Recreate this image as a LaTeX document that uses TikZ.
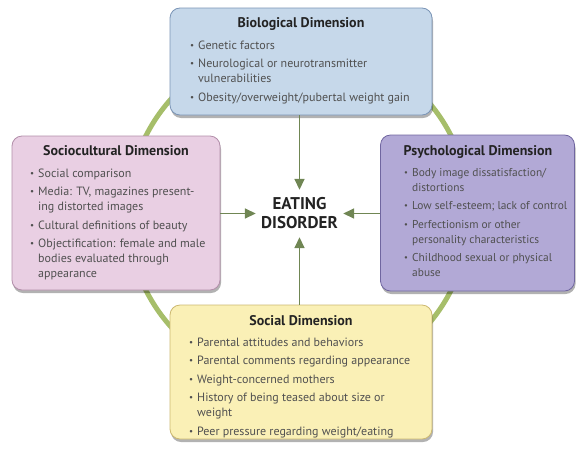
\documentclass[tikz,border=0pt]{standalone}
\usepackage{fontspec}
\setmainfont{PT Sans}
\usetikzlibrary{arrows.meta,shadows}
\definecolor{ringc}{RGB}{166,190,106}
\definecolor{arrc}{RGB}{112,134,84}
\definecolor{biofill}{RGB}{198,216,234}
\definecolor{biodraw}{RGB}{122,148,182}
\definecolor{socfill}{RGB}{233,207,227}
\definecolor{socdraw}{RGB}{178,142,170}
\definecolor{psyfill}{RGB}{178,169,214}
\definecolor{psydraw}{RGB}{112,102,160}
\definecolor{salfill}{RGB}{250,240,182}
\definecolor{saldraw}{RGB}{204,184,112}
\definecolor{txt}{RGB}{80,80,80}
\definecolor{ttl}{RGB}{35,35,35}
\newcommand\bitem[1]{\par\hangindent=8pt\hangafter=1\noindent\makebox[8pt][l]{\raisebox{0.15ex}{\scalebox{0.75}{\textbullet}}}#1\par}
\newcommand\blist[3][12]{\parbox[t]{#2}{\fontsize{#1}{15}\selectfont\raggedright\setlength\parskip{3.5pt}#3}}
\begin{document}
\begin{tikzpicture}[x=1pt,y=-1pt,
  dimbox/.style={rounded corners=10pt, line width=0.8pt, minimum width=#1, inner sep=0pt,
     drop shadow={shadow xshift=1pt, shadow yshift=-3pt, opacity=0.3, fill=black}},
  ttlnode/.style={font=\fontsize{14}{16}\selectfont\bfseries, text=ttl, inner sep=0pt, anchor=base},
  lstnode/.style={text=txt, inner sep=0pt, anchor=base west},
  arr/.style={arrc, line width=1.6pt, -{Triangle[length=11pt,width=10pt]}}]
\useasboundingbox (0,0) rectangle (577,450);
\coordinate (c) at (298.5,213);
\draw[ringc, line width=5pt] (c) circle[radius=171pt];
% boxes
\node[dimbox=262pt, minimum height=107pt, fill=biofill, draw=biodraw] (bio) at (301,61.5) {};
\node[dimbox=208pt, minimum height=154pt, fill=socfill, draw=socdraw] (socio) at (116,213) {};
\node[dimbox=194pt, minimum height=156pt, fill=psyfill, draw=psydraw] (psych) at (477.5,213) {};
\node[dimbox=262pt, minimum height=134pt, fill=salfill, draw=saldraw] (social) at (301,372) {};
% center
\node[minimum width=87pt, minimum height=47pt, inner sep=0pt, align=center,
      font=\fontsize{17}{19}\selectfont\bfseries, text=ttl] (ed) at (299.5,213.5) {EATING\\DISORDER};
% arrows
\draw[arr] (ed.north |- bio.south) -- (ed.north);
\draw[arr] (ed.south |- social.north) -- (ed.south);
\draw[arr] (socio.east |- ed.west) -- (ed.west);
\draw[arr] (psych.west |- ed.east) -- (ed.east);
% titles
\node[ttlnode] (biot) at (301,27) {Biological Dimension};
\node[ttlnode] (sociot) at (116,155) {Sociocultural Dimension};
\node[ttlnode] (psycht) at (478,155) {Psychological Dimension};
\node[ttlnode] (socialt) at (301,325) {Social Dimension};
% lists
\node[lstnode] (biol) at (190,49) {\blist{240pt}{%
\bitem{Genetic factors}
\bitem{Neurological or neurotransmitter\newline vulnerabilities}
\bitem{Obesity/overweight/pubertal weight gain}}};
\node[lstnode] (sociol) at (30,177) {\blist{190pt}{%
\bitem{Social comparison}
\bitem{Media: TV, magazines present-\newline ing distorted images}
\bitem{Cultural definitions of beauty}
\bitem{Objectification: female and male\newline bodies evaluated through\newline appearance}}};
\node[lstnode] (psychl) at (404,176) {\blist[11.4]{170pt}{%
\bitem{Body image dissatisfaction/\newline distortions}
\bitem{Low self-esteem; lack of control}
\bitem{Perfectionism or other\newline personality characteristics}
\bitem{Childhood sexual or physical\newline abuse}}};
\node[lstnode] (sociall) at (189,346) {\blist{240pt}{%
\bitem{Parental attitudes and behaviors}
\bitem{Parental comments regarding appearance}
\bitem{Weight-concerned mothers}
\bitem{History of being teased about size or\newline weight}
\bitem{Peer pressure regarding weight/eating}}};
\end{tikzpicture}
\end{document}
